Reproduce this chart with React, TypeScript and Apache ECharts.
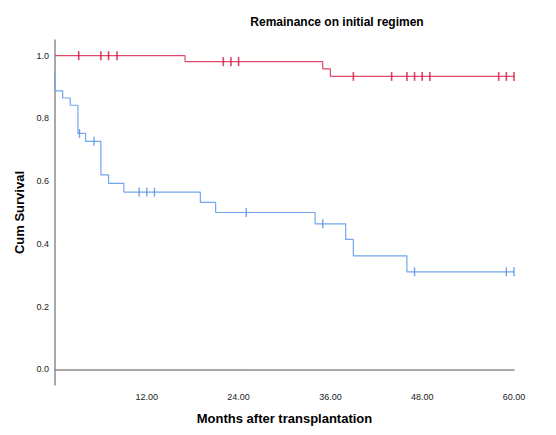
import React, { useEffect, useRef } from "react";
import * as echarts from "echarts";

const redTimes = [0, 17, 35, 36, 60];
const redSurv = [1.0, 0.981, 0.958, 0.934, 0.934];
const redCensor = [3.1, 6.0, 7.0, 8.1, 22.0, 23.0, 24.0, 39, 44, 46, 47, 48, 49, 58, 59, 60];

const blueTimes = [0, 0, 1, 2, 3, 4, 6, 7, 9, 19, 21, 34, 38, 39, 46, 60];
const blueSurv = [0.945, 0.888, 0.865, 0.842, 0.752, 0.727, 0.62, 0.593, 0.565, 0.532, 0.5, 0.464, 0.414, 0.362, 0.311, 0.311];
const blueCensor = [3.2, 5.1, 11, 12, 13, 25, 35, 47, 59, 60];

const xTicks = [12, 24, 36, 48, 60];
const yTicks = [0, 0.2, 0.4, 0.6, 0.8, 1.0];

function survAt(times: number[], surv: number[], t: number) {
  let s = surv[0];
  for (let i = 0; i < times.length; i++) {
    if (times[i] <= t) s = surv[i];
  }
  return s;
}

const FONT = "'Liberation Sans', Arial, sans-serif";

export default function App() {
  const ref = useRef<HTMLDivElement>(null);
  useEffect(() => {
    document.body.style.margin = "0";
    const chart = echarts.init(ref.current!, null, { renderer: "svg" });
    const redLine = redTimes.map((t, i) => [t, redSurv[i]]);
    const blueLine = blueTimes.map((t, i) => [t, blueSurv[i]]);
    const redC = redCensor.map((t) => [t, survAt(redTimes, redSurv, t)]);
    const blueC = blueCensor.map((t) => [t, survAt(blueTimes, blueSurv, t)]);
    chart.setOption({
      animation: false,
      backgroundColor: "#ffffff",
      textStyle: { fontFamily: FONT },
      title: {
        text: "Remainance on initial regimen",
        left: 332,
        top: 11,
        textAlign: "center",
        textStyle: { fontFamily: FONT, fontSize: 12, fontWeight: "bold", color: "#000" },
      },
      grid: { left: 55, right: 42, top: 40, bottom: 50, containLabel: false },
      xAxis: {
        type: "value",
        min: 0,
        max: 60,
        interval: 12,
        name: "Months after transplantation",
        nameLocation: "middle",
        nameGap: 27,
        nameTextStyle: { fontFamily: FONT, fontSize: 13, fontWeight: "bold", color: "#000" },
        axisLine: { lineStyle: { color: "#8c8c8c", width: 1.5 } },
        axisTick: { show: false },
        splitLine: { show: false },
        axisLabel: {
          margin: 7,
          fontSize: 9,
          color: "#222",
          fontFamily: FONT,
          formatter: (v: number) => (xTicks.includes(v) ? v.toFixed(2) : ""),
        },
      },
      yAxis: {
        type: "value",
        min: -0.05,
        max: 1.05,
        interval: 0.05,
        name: "Cum Survival",
        nameLocation: "middle",
        nameGap: 27,
        nameTextStyle: { fontFamily: FONT, fontSize: 13, fontWeight: "bold", color: "#000" },
        axisLine: { show: true, lineStyle: { color: "#8c8c8c", width: 1.5 } },
        axisTick: { show: false },
        splitLine: { show: false },
        axisLabel: {
          margin: 6,
          fontSize: 9,
          color: "#222",
          fontFamily: FONT,
          formatter: (v: number) => {
            const hit = yTicks.find((y) => Math.abs(y - v) < 1e-6);
            return hit !== undefined ? hit.toFixed(1) : "";
          },
        },
      },
      series: [
        {
          type: "line",
          step: "end",
          data: blueLine,
          showSymbol: false,
          symbol: "none",
          lineStyle: { color: "#72a6ee", width: 1.2 },
          z: 2,
        },
        {
          type: "line",
          step: "end",
          data: redLine,
          showSymbol: false,
          symbol: "none",
          lineStyle: { color: "#e0486d", width: 1.2 },
          z: 3,
        },
        {
          type: "scatter",
          data: blueC,
          symbol: "rect",
          symbolSize: [1.4, 9],
          itemStyle: { color: "#4f8ee6" },
          z: 4,
        },
        {
          type: "scatter",
          data: redC,
          symbol: "rect",
          symbolSize: [1.6, 9],
          itemStyle: { color: "#d4163f" },
          z: 5,
        },
      ],
    });
    return () => chart.dispose();
  }, []);
  return <div ref={ref} style={{ width: 556, height: 435 }} />;
}
